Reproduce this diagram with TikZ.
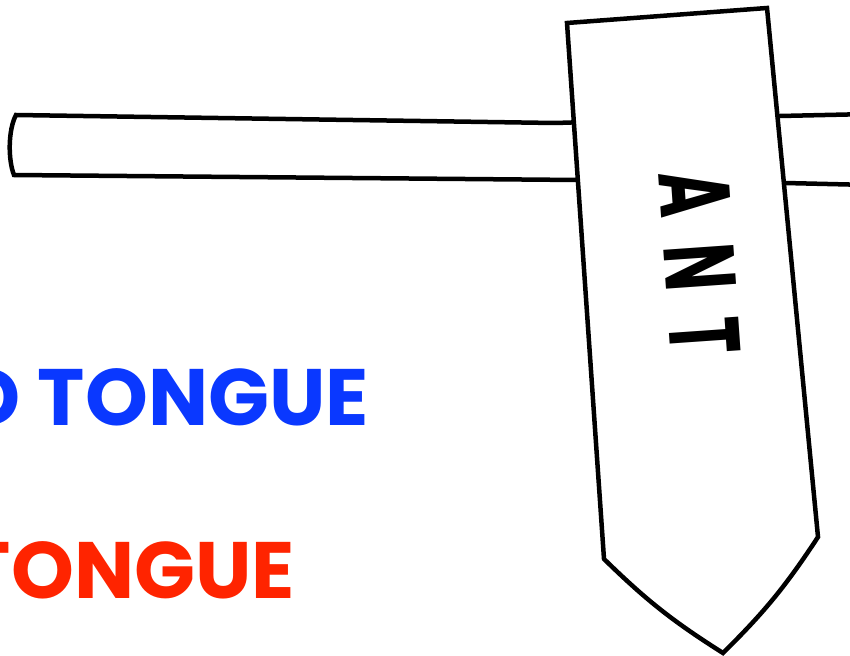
\documentclass[tikz,border=0pt]{standalone}
\usepackage{fontspec}
\setmainfont{Poppins}
\definecolor{tblue}{RGB}{10,56,255}
\definecolor{tred}{RGB}{255,36,0}
\begin{document}
\begin{tikzpicture}[x=1pt,y=-1pt,
  outline/.style={draw=black,line width=4.5pt,line join=miter,fill=white},
  bigtext/.style={font=\fontsize{80}{80}\selectfont\bfseries,inner sep=0pt}]
\useasboundingbox (0,0) rectangle (850,655);
\clip (0,0) rectangle (850,655);
% bar
\draw[outline] (16,115) -- (555,123) -- (780,116) -- (870,114)
  -- (870,185) -- (785,183) -- (578,180) -- (14,175)
  .. controls (8,160) and (8,130) .. (16,115) -- cycle;
% tag
\draw[outline] (567,23) -- (767,8) -- (818,537)
  to[bend left=6] (723,653) to[bend left=6] (604,559) -- cycle;
\node[rotate=-86,font=\fontsize{100}{100}\selectfont\bfseries,inner sep=0pt] (ant) at (700,263)
  {\scalebox{0.62}[1]{A\hspace{0.45em}N\hspace{0.45em}T}};
% texts
\node[bigtext,text=tblue,anchor=base east] (blue) at (369,425) {D TONGUE};
\node[bigtext,text=tred,anchor=base east] (red) at (295,598) {TONGUE};
\end{tikzpicture}
\end{document}
